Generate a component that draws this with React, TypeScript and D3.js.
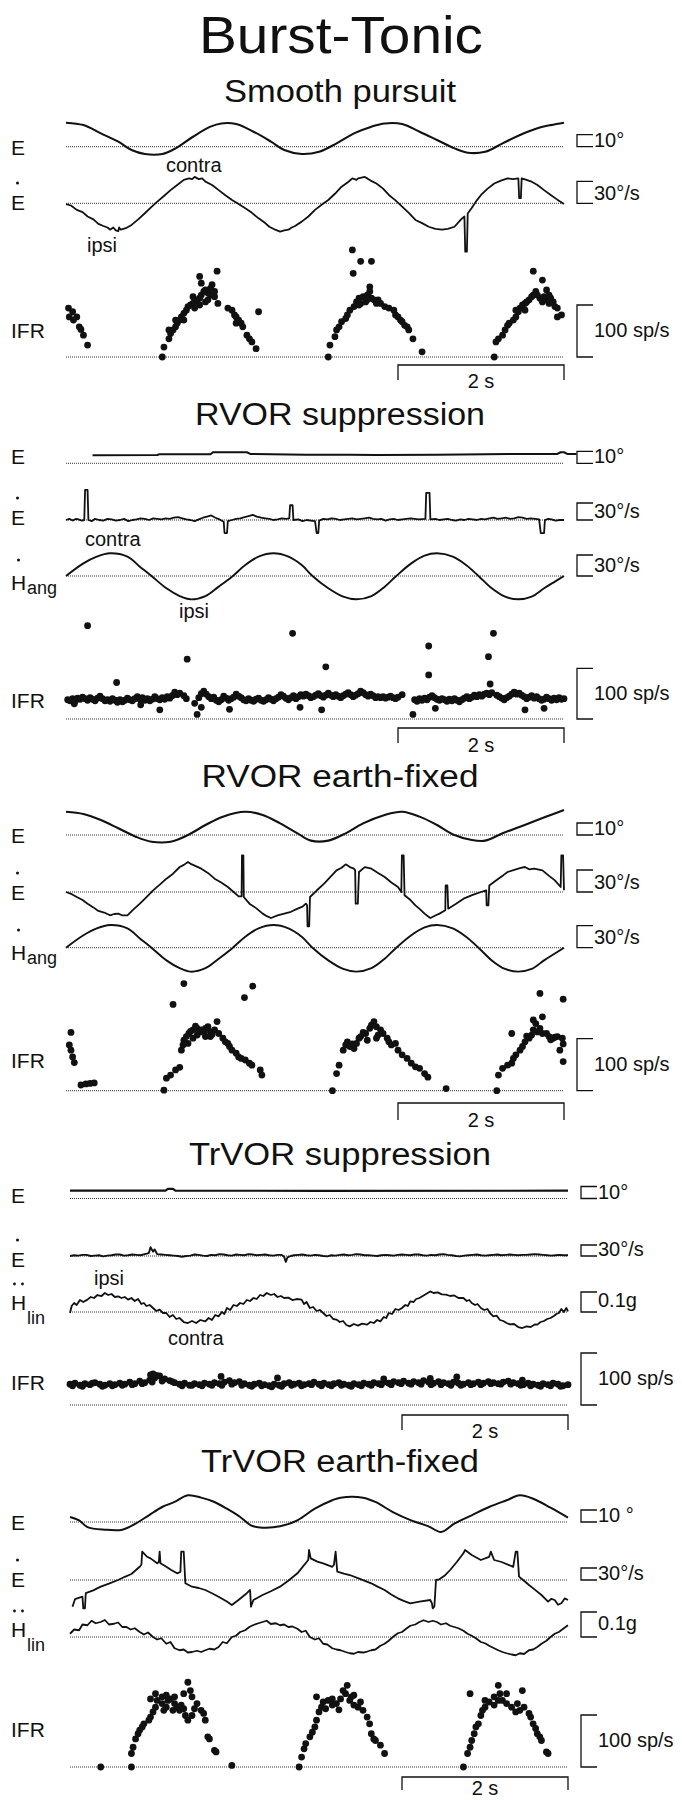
import React from 'react';
import * as d3 from 'd3';

type Pt = [number, number];

// ===================== DATA (time in s, values in physical units) =====================
// ---- Smooth pursuit ----
const spE: Pt[] = [[0,20],[.21,18],[.42,11.1],[.63,4.2],[.79,-2.8],[.95,-6.1],[1.16,-6.1],[1.32,-1.4],[1.53,8.3],[1.74,16.7],[1.87,19.4],[2.05,18.9],[2.26,12.5],[2.47,4.2],[2.63,-2.8],[2.84,-6.1],[3.05,-4.2],[3.26,2.8],[3.47,11.1],[3.68,16.7],[3.84,19.4],[4.05,18.9],[4.26,12.5],[4.47,5.6],[4.68,-1.4],[4.84,-5],[5.05,-4.2],[5.26,2.8],[5.47,9.7],[5.68,15.3],[5.84,18],[6.0,20]];
const spEdot: Pt[] = [[0,-1],[.06,-3],[.13,-9],[.2,-12],[.26,-18],[.33,-22],[.39,-28],[.45,-31],[.5,-33],[.53,-36],[.57,-33],[.6,-37],[.63,-38],[.64,-33],[.66,-36],[.72,-34],[.79,-29.5],[.87,-22],[.95,-13.6],[1.03,-5],[1.1,2.3],[1.18,10],[1.26,18],[1.34,25],[1.42,32],[1.48,34],[1.52,33],[1.55,36],[1.6,33],[1.64,34],[1.68,29.5],[1.76,25],[1.84,18],[1.92,11],[2.0,4.5],[2.08,-1],[2.16,-6.8],[2.24,-13],[2.32,-20.5],[2.4,-27],[2.45,-32],[2.52,-36],[2.58,-38.6],[2.63,-37],[2.68,-36],[2.72,-33],[2.76,-31],[2.84,-25],[2.92,-18],[3.0,-9],[3.08,-2],[3.16,4.5],[3.24,13],[3.32,22.7],[3.4,29],[3.45,34],[3.5,32],[3.52,34],[3.6,36],[3.63,34],[3.67,31],[3.74,27],[3.82,20],[3.89,11.4],[3.97,4],[4.05,-4.5],[4.13,-13],[4.21,-22.7],[4.29,-27],[4.37,-32],[4.45,-35],[4.53,-36],[4.6,-35],[4.68,-32],[4.76,-22],[4.8,-18],[4.81,-66],[4.83,-66],[4.84,-14],[4.89,-6],[4.95,4],[5.0,11.4],[5.08,20],[5.16,27],[5.24,31],[5.32,34],[5.38,33],[5.45,34],[5.46,7],[5.48,7],[5.49,34],[5.53,32.7],[5.6,30],[5.68,25],[5.76,18],[5.84,11.4],[5.92,5],[6.0,-1]];
const spIFR: Pt[] = [[.03,94],[.08,87],[.04,77],[.13,77],[.09,71],[.16,58],[.18,53],[.21,42],[.26,23],
[1.16,0],[1.18,19],[1.24,35],[1.26,45],[1.29,52],[1.32,58],[1.34,65],[1.37,71],[1.39,77],[1.42,84],[1.45,90],[1.47,97],[1.5,100],[1.53,103],[1.55,106],[1.58,110],[1.61,113],[1.63,119],[1.66,126],[1.68,129],[1.71,123],[1.74,132],[1.76,139],[1.79,116],[1.82,165],[1.61,100],[1.55,94],[1.68,106],[1.63,142],[1.74,119],[1.79,126],[1.83,103],[1.32,71],[1.42,71],[1.24,52],[1.53,116],[1.61,155],[1.71,110],
[1.95,94],[2.0,90],[2.03,81],[2.05,77],[2.08,71],[2.11,65],[2.05,65],[2.13,58],[2.18,42],[2.21,35],[2.24,29],[2.29,16],[2.32,87],
[3.16,0],[3.18,23],[3.24,39],[3.26,52],[3.29,58],[3.32,68],[3.37,74],[3.39,81],[3.42,90],[3.47,97],[3.5,106],[3.53,113],[3.58,116],[3.63,119],[3.66,126],[3.68,113],[3.71,110],[3.74,103],[3.61,106],[3.55,103],[3.66,135],[3.45,206],[3.55,184],[3.68,184],[3.46,161],[3.63,110],[3.53,100],[3.76,110],
[3.79,103],[3.84,97],[3.89,94],[3.95,90],[3.97,81],[4.0,77],[4.03,71],[4.05,68],[4.08,61],[4.11,58],[4.13,52],[4.18,35],[4.29,10],
[5.16,0],[5.18,29],[5.21,35],[5.26,42],[5.29,52],[5.32,61],[5.34,65],[5.39,71],[5.42,77],[5.45,87],[5.47,94],[5.5,100],[5.53,103],[5.55,106],[5.58,110],[5.61,116],[5.63,119],[5.66,126],[5.71,113],[5.74,106],[5.79,110],[5.82,103],[5.84,113],[5.87,106],[5.89,97],[5.92,77],[5.97,81],[5.92,94],[5.63,165],[5.74,148],[5.79,129],[5.42,90],[5.53,90],[5.68,119],[5.76,116],[5.82,119]];

// ---- RVOR suppression ----
const rsE: Pt[] = [[.32,6.7],[1.1,6.9],[1.12,7.5],[1.74,7.5],[1.77,9.2],[2.18,9.2],[2.22,7.8],[2.89,7.2],[3.42,7.2],[3.74,6.9],[4.47,7.2],[5.53,7.8],[5.92,7.8],[5.96,9.2],[6.0,9.2],[6.04,7.8],[6.15,7.8]];
const rsEdot: Pt[] = [[0,0],[.04,2],[.08,-1],[.12,2],[.15,1],[.19,-1],[.22,0],[.23,53],[.26,53],[.27,0],[.31,-2],[.35,2],[.4,0],[.45,-1],[.5,2],[.55,1],[.6,-1],[.65,0],[.7,2],[.75,-2],[.8,0],[.85,1],[.9,3],[.95,2],[1.0,0],[1.05,3],[1.1,2],[1.15,1],[1.2,3],[1.25,2],[1.3,4],[1.35,5],[1.4,3],[1.45,1],[1.5,0],[1.55,-2],[1.6,1],[1.65,4],[1.7,6],[1.75,8],[1.8,4],[1.85,1],[1.9,-3],[1.91,-23],[1.94,-23],[1.95,-2],[2.0,0],[2.05,2],[2.1,3],[2.15,5],[2.2,7],[2.25,9],[2.3,6],[2.35,4],[2.4,3],[2.45,2],[2.5,0],[2.55,1],[2.6,3],[2.65,2],[2.69,3],[2.7,26],[2.73,26],[2.74,0],[2.8,1],[2.85,-2],[2.9,0],[2.95,-1],[3.0,-2],[3.02,-23],[3.04,-23],[3.05,-1],[3.1,2],[3.15,1],[3.2,3],[3.25,2],[3.3,0],[3.35,1],[3.4,2],[3.45,3],[3.5,1],[3.55,2],[3.6,3],[3.65,4],[3.7,2],[3.75,1],[3.8,2],[3.85,-1],[3.9,1],[3.95,2],[4.0,0],[4.05,1],[4.1,2],[4.15,3],[4.2,2],[4.25,1],[4.33,2],[4.34,48],[4.38,48],[4.39,1],[4.45,2],[4.5,0],[4.55,1],[4.6,2],[4.65,0],[4.7,-1],[4.75,1],[4.8,0],[4.85,2],[4.9,1],[4.95,0],[5.0,2],[5.05,1],[5.1,3],[5.15,4],[5.2,2],[5.25,3],[5.3,4],[5.35,2],[5.4,3],[5.45,5],[5.5,4],[5.55,2],[5.6,3],[5.65,2],[5.7,1],[5.72,-23],[5.76,-23],[5.77,0],[5.81,2],[5.85,1],[5.9,-1],[5.95,0],[6.0,0]];
const rsHang: Pt[] = [[0,0],[.21,18],[.37,27.6],[.53,32.4],[.74,27.6],[.89,13.3],[1.03,0],[1.21,-17.6],[1.37,-28.6],[1.5,-33.3],[1.68,-28.6],[1.84,-15.2],[2.0,-1],[2.16,15.7],[2.32,27.6],[2.5,32.4],[2.68,27.6],[2.84,15.7],[2.97,0],[3.16,-17.6],[3.34,-29.5],[3.5,-33.3],[3.68,-28.6],[3.84,-15.2],[3.97,-1],[4.16,18],[4.32,29],[4.47,32.4],[4.66,27.6],[4.82,15.7],[4.97,0],[5.13,-17.6],[5.29,-29.5],[5.45,-33.3],[5.61,-29.5],[5.76,-17.6],[5.89,-8],[6.0,0]];
const rsIFR: Pt[] = [[.02,38],[.05,36],[.08,40],[.11,35],[.14,41],[.17,39],[.2,43],[.23,40],[.26,37],[.29,42],[.32,39],[.35,36],[.38,41],[.41,45],[.44,40],[.47,36],[.5,38],[.53,35],[.56,40],[.59,37],[.62,33],[.65,38],[.68,34],[.71,37],[.74,41],[.77,38],[.8,36],[.83,40],[.86,44],[.89,39],[.92,42],[.95,37],[.98,40],[1.01,36],[1.04,39],[1.07,44],[1.1,40],[1.13,38],[1.16,42],[1.19,39],[1.22,44],[1.25,41],[1.28,46],[1.31,53],[1.34,48],[1.37,51],[1.42,46],[1.45,40],[1.55,31],[1.6,42],[1.63,50],[1.66,55],[1.69,49],[1.72,44],[1.75,40],[1.78,43],[1.81,37],[1.84,34],[1.87,38],[1.9,45],[1.93,41],[1.96,37],[1.99,40],[2.02,43],[2.05,49],[2.08,45],[2.11,42],[2.14,38],[2.17,36],[2.2,40],[2.23,37],[2.26,35],[2.29,39],[2.32,41],[2.35,37],[2.38,35],[2.41,38],[2.44,42],[2.47,39],[2.5,36],[2.53,40],[2.56,43],[2.59,48],[2.62,45],[2.65,41],[2.68,38],[2.71,42],[2.74,46],[2.77,40],[2.8,44],[2.83,48],[2.86,45],[2.89,49],[2.92,46],[2.95,42],[2.98,44],[3.01,47],[3.04,50],[3.07,46],[3.1,43],[3.13,47],[3.16,51],[3.19,47],[3.22,44],[3.25,48],[3.28,45],[3.31,42],[3.34,46],[3.37,49],[3.4,52],[3.43,48],[3.46,44],[3.49,47],[3.52,50],[3.55,55],[3.58,52],[3.61,48],[3.64,45],[3.67,49],[3.7,46],[3.73,42],[3.76,44],[3.79,42],[3.82,44],[3.85,41],[3.88,43],[3.91,45],[3.94,42],[3.97,40],[4.0,43],[4.05,48],[4.2,38],[4.23,35],[4.26,40],[4.29,37],[4.32,41],[4.35,38],[4.38,43],[4.41,46],[4.44,42],[4.47,39],[4.5,37],[4.53,40],[4.56,38],[4.59,35],[4.62,39],[4.65,36],[4.68,40],[4.71,37],[4.74,34],[4.77,38],[4.8,41],[4.83,44],[4.86,40],[4.89,43],[4.92,47],[4.95,44],[4.98,48],[5.01,45],[5.04,49],[5.07,51],[5.1,48],[5.13,52],[5.19,47],[5.22,44],[5.25,41],[5.28,38],[5.31,42],[5.34,45],[5.37,49],[5.4,53],[5.43,49],[5.46,51],[5.49,47],[5.52,44],[5.55,40],[5.58,43],[5.61,46],[5.64,41],[5.67,44],[5.7,40],[5.73,37],[5.76,39],[5.79,43],[5.82,40],[5.85,37],[5.88,41],[5.91,38],[5.94,42],[5.97,39],[6.0,40],
[.26,184],[1.46,118],[.61,72],[2.73,169],[3.13,103],[4.37,144],[4.37,87],[5.15,169],[5.09,123],[5.11,69],[1.58,9],[1.13,18],[4.18,9],[1.63,23],[1.97,19],[3.08,18],[4.45,21],[5.53,18],[5.76,21],[2.82,23],[.1,30],[.9,28]];

// ---- RVOR earth-fixed ----
const reE: Pt[] = [[0,19.4],[.21,17.5],[.42,12.5],[.63,5.6],[.84,-1.4],[1.03,-5.6],[1.26,-5.6],[1.47,0],[1.68,8.3],[1.89,15.3],[2.16,19.4],[2.37,16.7],[2.58,9.7],[2.79,1.4],[2.95,-4.7],[3.16,-4.7],[3.37,1.4],[3.58,9.7],[3.84,16.7],[4.05,19.4],[4.26,15.3],[4.47,8.3],[4.68,0],[4.89,-4.2],[5.05,-4.7],[5.26,1.4],[5.47,6.9],[5.68,12.5],[5.84,16.7],[6.0,20.8]];
const reEdot: Pt[] = [[0,0],[.07,-3],[.13,-6.8],[.2,-11],[.26,-15.9],[.33,-21],[.39,-25.9],[.46,-28],[.53,-31.8],[.58,-30],[.63,-29.5],[.68,-32],[.74,-31.8],[.81,-24],[.89,-15.9],[.97,-7],[1.05,2.3],[1.13,10],[1.21,18.2],[1.29,25],[1.37,34.1],[1.42,37],[1.47,40.9],[1.51,38],[1.55,36],[1.63,31.8],[1.71,26],[1.79,18.2],[1.87,13],[1.95,6.8],[2.02,0],[2.08,-5.9],[2.116,-5.9],[2.12,50],[2.137,50],[2.142,-6.8],[2.21,-15.9],[2.29,-22],[2.37,-29.5],[2.42,-33],[2.47,-35.5],[2.55,-32],[2.63,-29.5],[2.71,-27],[2.79,-22.7],[2.85,-20],[2.89,-15.9],[2.905,-18],[2.91,-46.8],[2.93,-46.8],[2.94,-6.8],[3.02,2],[3.11,11.4],[3.18,20],[3.26,29.5],[3.32,33],[3.37,37.7],[3.42,34],[3.47,31.8],[3.484,29.5],[3.49,-15.9],[3.516,-15.9],[3.53,27.3],[3.6,34],[3.68,31.8],[3.76,26],[3.84,20.5],[3.92,13],[4.0,6.8],[4.04,0],[4.047,50],[4.068,50],[4.079,-4.5],[4.15,-11],[4.21,-18.2],[4.27,-24],[4.32,-29.5],[4.36,-33],[4.39,-35.5],[4.45,-32],[4.5,-29.5],[4.57,-25],[4.574,9],[4.595,9],[4.605,-22.7],[4.7,-16],[4.79,-9.1],[4.9,-4],[5.0,0],[5.063,2.3],[5.068,-18.2],[5.089,-18.2],[5.1,9],[5.16,14],[5.21,18.2],[5.27,23],[5.32,27.3],[5.42,31],[5.48,33],[5.53,34.1],[5.58,31],[5.64,32],[5.74,29.5],[5.82,22],[5.89,15.9],[5.96,6.8],[5.968,50],[5.989,50],[6.0,2.3]];
const reHang: Pt[] = [[0,0],[.21,17],[.37,26.4],[.53,31],[.74,26.4],[.89,12.7],[1.03,0],[1.21,-17.3],[1.37,-28],[1.5,-32.7],[1.68,-28],[1.84,-15],[2.0,-1],[2.16,15],[2.32,26.4],[2.5,31],[2.68,26.4],[2.84,15],[2.97,0],[3.16,-17.3],[3.34,-29],[3.5,-32.7],[3.68,-28],[3.84,-15],[3.97,-1],[4.16,17],[4.32,27.7],[4.47,31],[4.66,26.4],[4.82,15],[4.97,0],[5.13,-17.3],[5.29,-29],[5.45,-32.7],[5.61,-29],[5.76,-17.3],[5.89,-8],[6.0,0]];
const reIFR: Pt[] = [[.06,112],[.04,88],[.06,78],[.08,65],[.1,54],[.18,11],[.24,13],[.29,14],[.34,15],
[1.18,1],[1.21,24],[1.26,30],[1.32,40],[1.37,45],[1.39,78],[1.41,88],[1.42,97],[1.45,104],[1.48,110],[1.53,117],[1.58,120],[1.63,117],[1.68,120],[1.74,113],[1.79,117],[1.82,133],[1.84,110],[1.89,101],[1.92,94],[1.95,91],[1.97,85],[2.0,78],[2.05,72],[2.08,65],[2.11,62],[2.16,59],[2.21,53],[2.24,49],[2.34,40],[2.36,30],[1.47,91],[1.58,107],[1.68,104],[1.61,113],[1.53,101],[1.74,104],[1.42,206],[1.29,166],[2.25,201],[2.15,179],[1.56,124],[1.66,112],[1.71,123],[1.76,108],[1.5,114],
[3.21,0],[3.26,33],[3.29,49],[3.34,78],[3.37,88],[3.39,94],[3.42,85],[3.47,81],[3.5,91],[3.55,104],[3.61,110],[3.66,120],[3.68,126],[3.71,133],[3.74,123],[3.76,107],[3.79,117],[3.82,110],[3.87,101],[3.89,94],[3.92,88],[3.97,91],[4.0,78],[4.05,69],[4.11,62],[4.16,53],[4.21,46],[4.26,43],[4.32,33],[4.36,26],[3.63,97],[3.53,101],[3.74,101],[3.58,112],[3.45,90],
[4.58,4],
[5.19,0],[5.21,30],[5.26,43],[5.32,49],[5.37,53],[5.39,62],[5.42,69],[5.47,78],[5.5,85],[5.53,94],[5.58,101],[5.61,107],[5.63,117],[5.68,113],[5.71,120],[5.74,110],[5.79,110],[5.82,104],[5.87,101],[5.92,104],[5.98,101],[5.95,78],[5.99,90],[5.99,56],[5.37,110],[5.63,136],[5.74,142],[5.66,129],[5.71,187],[5.99,176],[5.55,105],[5.84,98],[5.89,103]];

// ---- TrVOR suppression ----
const tsE: Pt[] = [[0,6.5],[1.15,6.5],[1.18,8],[1.24,8],[1.27,6.5],[3.0,6.4],[6.0,6.5]];
const tsEdot: Pt[] = [[0,0],[.05,2],[.1,1],[.15,3],[.2,3],[.25,0],[.3,1],[.35,2],[.4,-1],[.45,1],[.5,2],[.55,4],[.6,4],[.65,1],[.7,2],[.75,4],[.8,3],[.85,2],[.9,5],[.95,8],[.97,24],[1.0,12],[1.02,18],[1.05,5],[1.1,4],[1.15,3],[1.2,2],[1.25,1],[1.3,0],[1.35,-2],[1.4,0],[1.45,1],[1.5,4],[1.55,3],[1.6,1],[1.65,0],[1.7,3],[1.75,2],[1.8,5],[1.85,4],[1.9,2],[1.95,1],[2.0,4],[2.05,3],[2.1,2],[2.15,5],[2.2,4],[2.25,2],[2.3,3],[2.35,4],[2.4,2],[2.45,1],[2.5,3],[2.55,3],[2.58,-2],[2.6,-16],[2.62,-4],[2.66,0],[2.7,2],[2.75,3],[2.8,4],[2.85,2],[2.9,1],[2.95,3],[3.0,2],[3.05,0],[3.1,-1],[3.15,2],[3.2,1],[3.25,3],[3.3,4],[3.35,2],[3.4,3],[3.45,5],[3.5,4],[3.55,2],[3.6,2],[3.65,1],[3.7,0],[3.75,2],[3.8,3],[3.85,2],[3.9,1],[3.95,3],[4.0,4],[4.05,3],[4.1,2],[4.15,4],[4.2,4],[4.25,2],[4.3,1],[4.35,3],[4.4,2],[4.45,4],[4.5,5],[4.55,3],[4.6,2],[4.65,0],[4.7,-1],[4.75,1],[4.8,2],[4.85,3],[4.9,4],[4.95,2],[5.0,1],[5.05,2],[5.1,3],[5.15,4],[5.2,2],[5.25,3],[5.3,4],[5.35,3],[5.4,2],[5.45,3],[5.5,3],[5.55,4],[5.6,5],[5.65,4],[5.7,3],[5.75,2],[5.8,1],[5.85,2],[5.9,3],[5.95,2],[6.0,2]];
const tsHlin: Pt[] = [[0,-.005],[.02,.03],[.05,.045],[.08,.035],[.12,.06],[.16,.05],[.21,.062],[.25,.075],[.29,.07],[.33,.085],[.38,.08],[.42,.095],[.46,.085],[.5,.09],[.54,.075],[.58,.078],[.62,.07],[.66,.075],[.7,.062],[.74,.07],[.78,.055],[.82,.065],[.86,.04],[.89,.045],[.92,.03],[.96,.035],[1.0,.02],[1.04,.005],[1.08,.012],[1.12,-.005],[1.16,-.005],[1.2,-.025],[1.24,-.015],[1.28,-.035],[1.32,-.03],[1.37,-.05],[1.42,-.055],[1.47,-.045],[1.52,-.055],[1.57,-.04],[1.63,-.047],[1.67,-.03],[1.71,-.04],[1.75,-.015],[1.79,-.022],[1.83,0],[1.86,-.01],[1.89,.02],[1.93,.01],[1.97,.035],[2.01,.03],[2.05,.045],[2.09,.04],[2.13,.06],[2.17,.055],[2.21,.07],[2.25,.065],[2.29,.085],[2.33,.08],[2.37,.095],[2.42,.085],[2.46,.09],[2.5,.075],[2.54,.08],[2.58,.07],[2.63,.072],[2.68,.06],[2.73,.065],[2.79,.062],[2.82,.04],[2.85,.05],[2.89,.02],[2.93,.025],[2.97,.005],[3.01,.01],[3.05,-.005],[3.09,-.02],[3.13,-.015],[3.17,-.035],[3.21,-.038],[3.25,-.05],[3.29,-.045],[3.33,-.065],[3.37,-.072],[3.42,-.06],[3.47,-.068],[3.52,-.058],[3.58,-.063],[3.62,-.05],[3.66,-.055],[3.7,-.04],[3.74,-.047],[3.78,-.025],[3.81,-.03],[3.84,-.005],[3.88,-.01],[3.92,.015],[3.96,.01],[4.0,.02],[4.04,.035],[4.07,.03],[4.1,.053],[4.14,.05],[4.17,.065],[4.21,.07],[4.25,.08],[4.29,.09],[4.34,.103],[4.38,.095],[4.43,.098],[4.48,.088],[4.53,.087],[4.58,.08],[4.63,.083],[4.68,.07],[4.74,.07],[4.78,.055],[4.81,.06],[4.84,.045],[4.88,.035],[4.91,.04],[4.95,.02],[4.99,.01],[5.03,.015],[5.06,-.005],[5.1,-.022],[5.14,-.018],[5.18,-.04],[5.22,-.045],[5.26,-.055],[5.3,-.062],[5.35,-.06],[5.4,-.075],[5.45,-.08],[5.5,-.072],[5.55,-.075],[5.6,-.062],[5.63,-.063],[5.67,-.05],[5.71,-.045],[5.75,-.035],[5.79,-.03],[5.83,-.02],[5.86,-.01],[5.89,-.005],[5.92,.015],[5.95,0],[5.98,.02],[6.0,.003]];
const tsIFR: Pt[] = [[0,40],[.06,42],[.12,38],[.18,41],[.24,39],[.3,43],[.36,40],[.42,38],[.48,41],[.54,39],[.6,42],[.66,40],[.72,44],[.78,41],[.84,46],[.9,43],[.96,48],[1.02,52],[1.08,56],[1.14,50],[1.2,47],[1.26,43],[1.32,40],[1.38,42],[1.44,38],[1.5,41],[1.56,39],[1.62,42],[1.68,40],[1.74,43],[1.8,41],[1.86,44],[1.92,47],[1.98,43],[2.04,45],[2.1,41],[2.16,38],[2.22,40],[2.28,42],[2.34,39],[2.4,37],[2.46,40],[2.52,38],[2.58,41],[2.64,43],[2.7,40],[2.76,42],[2.82,39],[2.88,41],[2.94,44],[3.0,40],[3.06,42],[3.12,39],[3.18,41],[3.24,43],[3.3,40],[3.36,38],[3.42,41],[3.48,39],[3.54,42],[3.6,40],[3.66,43],[3.72,41],[3.78,44],[3.84,42],[3.9,45],[3.96,43],[4.02,46],[4.08,42],[4.14,45],[4.2,43],[4.26,47],[4.32,44],[4.38,42],[4.44,45],[4.5,43],[4.56,41],[4.62,44],[4.68,42],[4.74,40],[4.8,43],[4.86,41],[4.92,44],[4.98,42],[5.04,45],[5.1,43],[5.16,41],[5.22,44],[5.28,46],[5.34,43],[5.4,41],[5.46,39],[5.52,42],[5.58,40],[5.64,38],[5.7,41],[5.76,39],[5.82,42],[5.88,40],[5.94,37],[6.0,39],
[.03,37],[.15,36],[.27,42],[.39,36],[.51,37],[.63,38],[.75,39],[.87,41],[.99,44],[1.11,46],[1.23,45],[1.35,37],[1.47,38],[1.59,37],[1.71,38],[1.83,38],[1.95,40],[2.07,38],[2.19,36],[2.31,37],[2.43,35],[2.55,36],[2.67,38],[2.79,37],[2.91,39],[3.03,37],[3.15,37],[3.27,38],[3.39,36],[3.51,37],[3.63,38],[3.75,39],[3.87,39],[3.99,41],[4.11,40],[4.23,40],[4.35,39],[4.47,39],[4.59,38],[4.71,38],[4.83,39],[4.95,39],[5.07,41],[5.19,40],[5.31,40],[5.43,38],[5.55,37],[5.67,36],[5.79,37],[5.91,36],
[.97,58],[1.0,60],[1.04,57],[1.82,55],[2.5,52],[3.78,50],[4.34,51],[4.66,54],[5.45,48]];

// ---- TrVOR earth-fixed ----
const teE: Pt[] = [[0,4.2],[.11,1.4],[.21,-4.2],[.42,-6.4],[.63,-6.4],[.79,-1.4],[.95,5.6],[1.11,12.5],[1.26,16.7],[1.42,22.2],[1.58,20.3],[1.74,16.7],[1.89,11.1],[2.05,4.2],[2.18,-2.8],[2.32,-4.7],[2.53,-3.6],[2.74,1.4],[2.95,11.1],[3.16,18.1],[3.26,20.3],[3.53,20.3],[3.68,16.7],[3.89,8.3],[4.11,1.4],[4.32,-3.6],[4.47,-8.3],[4.63,-1.4],[4.84,5.6],[5.05,12.5],[5.26,18.1],[5.42,22.2],[5.58,19.4],[5.79,11.9],[6.0,3.6]];
const teEdot: Pt[] = [[.03,-66.7],[.06,-48],[.15,-41.7],[.16,-70.8],[.18,-70.8],[.19,-33],[.28,-26],[.37,-16.7],[.47,-9],[.58,0],[.66,8],[.74,15],[.84,33],[.86,38],[.87,70.8],[.89,66.7],[.93,58],[.97,54],[1.05,41.7],[1.07,45],[1.08,70.8],[1.09,41.7],[1.16,33],[1.22,25],[1.29,16.7],[1.33,20],[1.34,70.8],[1.37,70.8],[1.39,-8.3],[1.47,-16.7],[1.55,-20],[1.63,-25],[1.71,-33],[1.79,-41.7],[1.89,-54],[1.95,-62.5],[2.03,-50],[2.13,-33],[2.17,-25],[2.18,-66.7],[2.21,-50],[2.32,-37.5],[2.42,-28],[2.53,-16.7],[2.63,-2],[2.74,16.7],[2.87,50],[2.88,75],[2.9,54],[2.98,46],[3.05,41.7],[3.16,33],[3.18,38],[3.2,70.8],[3.22,20.8],[3.3,16],[3.37,12.5],[3.5,2],[3.63,-8.3],[3.7,-16],[3.79,-25],[3.87,-36],[3.95,-45.8],[4.02,-52],[4.1,-58.3],[4.21,-54],[4.34,-50],[4.36,-58],[4.37,-70.8],[4.39,-66.7],[4.41,0],[4.45,1.7],[4.52,12],[4.58,25],[4.66,45],[4.74,66.7],[4.76,75],[4.84,62.5],[4.95,50],[5.05,58],[5.07,70.8],[5.11,50],[5.2,45],[5.34,33],[5.37,70.8],[5.39,70.8],[5.41,8.3],[5.47,-2],[5.53,-12.5],[5.6,-24],[5.68,-37.5],[5.76,-54],[5.8,-47],[5.84,-50],[5.88,-62],[5.92,-58],[5.96,-46],[6.0,-50]];
const teHlin: Pt[] = [[0,.013],[.05,.03],[.11,.027],[.15,.05],[.21,.047],[.26,.065],[.31,.055],[.37,.06],[.42,.068],[.47,.05],[.53,.053],[.58,.058],[.63,.04],[.68,.04],[.73,.03],[.78,.035],[.84,.02],[.89,.01],[.94,.018],[1.0,0],[1.05,-.01],[1.1,-.005],[1.16,-.027],[1.21,-.02],[1.26,-.045],[1.32,-.053],[1.37,-.05],[1.42,-.062],[1.47,-.06],[1.53,-.055],[1.58,-.06],[1.63,-.053],[1.68,-.047],[1.74,-.05],[1.79,-.04],[1.84,-.02],[1.89,-.025],[1.95,0],[2.0,.005],[2.05,.02],[2.11,.027],[2.16,.04],[2.21,.048],[2.27,.055],[2.32,.06],[2.37,.065],[2.42,.052],[2.48,.055],[2.53,.047],[2.58,.05],[2.63,.04],[2.68,.042],[2.74,.033],[2.79,.02],[2.84,.025],[2.89,0],[2.95,-.01],[3.0,-.005],[3.05,-.027],[3.1,-.03],[3.16,-.045],[3.21,-.05],[3.26,-.053],[3.32,-.06],[3.37,-.065],[3.42,-.067],[3.47,-.06],[3.53,-.062],[3.58,-.058],[3.63,-.053],[3.68,-.05],[3.74,-.035],[3.79,-.027],[3.84,-.015],[3.89,0],[3.95,.015],[4.0,.02],[4.05,.033],[4.1,.045],[4.16,.05],[4.21,.06],[4.26,.067],[4.32,.06],[4.37,.065],[4.42,.06],[4.47,.05],[4.53,.055],[4.58,.045],[4.63,.04],[4.68,.035],[4.74,.025],[4.79,.013],[4.84,.005],[4.89,-.005],[4.95,-.02],[5.0,-.025],[5.05,-.035],[5.11,-.045],[5.16,-.053],[5.21,-.06],[5.26,-.065],[5.32,-.07],[5.37,-.073],[5.42,-.065],[5.47,-.068],[5.53,-.053],[5.58,-.05],[5.63,-.04],[5.68,-.027],[5.74,-.015],[5.79,0],[5.84,.013],[5.89,.02],[5.95,.035],[6.0,.047]];
const teIFR: Pt[] = [[.37,0],[.74,0],[.74,26],[.76,38],[.79,54],[.82,64],[.84,71],[.87,77],[.89,83],[.95,90],[.97,96],[1.0,106],[1.03,115],[1.05,128],[1.11,122],[1.13,109],[1.16,115],[1.18,128],[1.21,131],[1.26,122],[1.29,115],[1.32,109],[1.34,119],[1.37,112],[1.39,99],[1.42,90],[1.47,99],[1.5,112],[1.53,122],[1.58,109],[1.61,103],[1.63,90],[1.66,58],[1.68,54],[1.74,32],[1.76,29],[1.03,141],[1.11,135],[1.16,138],[1.26,135],[1.42,163],[1.45,147],[1.47,135],[.97,131],[1.24,109],[1.37,141],[1.95,3],
[2.76,0],[2.79,19],[2.82,35],[2.84,45],[2.89,58],[2.92,67],[2.95,77],[2.97,90],[3.0,106],[3.03,115],[3.05,125],[2.97,135],[3.11,128],[3.16,119],[3.21,122],[3.26,131],[3.32,141],[3.34,157],[3.37,128],[3.39,135],[3.42,119],[3.47,115],[3.5,125],[3.53,109],[3.58,96],[3.61,83],[3.63,64],[3.66,54],[3.68,51],[3.74,42],[3.79,26],[3.16,131],[3.42,138],[3.29,147],[3.08,112],[3.24,110],
[4.74,0],[4.79,26],[4.82,38],[4.84,51],[4.87,64],[4.89,77],[4.92,83],[4.95,99],[4.97,109],[5.0,115],[5.05,125],[5.11,119],[5.16,128],[5.18,141],[5.21,128],[5.26,122],[5.32,115],[5.37,106],[5.42,109],[5.47,115],[5.53,103],[5.55,96],[5.58,83],[5.61,74],[5.63,64],[5.66,58],[5.68,51],[5.74,29],[5.76,26],[4.82,141],[5.16,157],[5.26,141],[5.45,147],[5.11,135],[5.0,128],[5.39,122]];

// ---- labels ----
const mainTitle = 'Burst-Tonic';
const panelTitles = ['Smooth pursuit', 'RVOR suppression', 'RVOR earth-fixed', 'TrVOR suppression', 'TrVOR earth-fixed'];
const timeBarLabel = '2 s';

// ===================== LAYOUT =====================
const FONT = '"Liberation Sans", Arial, Helvetica, sans-serif';
const INK = '#111';

type Row = {
  kind: 'E' | 'Edot' | 'Hang' | 'Hlin' | 'IFR';
  base: number; ppu: number; data: Pt[];
  bar: number; barText: string; barTextY: number;
  labelY: number; curve?: any; sw?: number;
};
type Panel = {
  title: string; titleY: number; titleLen: number; x0: number; x1: number; barX: number;
  rows: Row[]; tb: [number, number, number];
  notes: { text: string; x: number; y: number }[];
};

const panels: Panel[] = [
  { title: panelTitles[0], titleY: 102, titleLen: 232, x0: 66, x1: 564, barX: 577,
    tb: [365, 380, 388],
    notes: [{ text: 'contra', x: 166, y: 172 }, { text: 'ipsi', x: 87, y: 252 }],
    rows: [
      { kind: 'E', base: 146.7, ppu: 1.2, data: spE, bar: 10, barText: '10°', barTextY: 147, labelY: 155, curve: d3.curveCatmullRom, sw: 2.1 },
      { kind: 'Edot', base: 203.3, ppu: 0.733, data: spEdot, bar: 30, barText: '30°/s', barTextY: 200, labelY: 210, sw: 1.8 },
      { kind: 'IFR', base: 357, ppu: 0.52, data: spIFR, bar: 100, barText: '100 sp/s', barTextY: 337, labelY: 338 },
    ] },
  { title: panelTitles[1], titleY: 425, titleLen: 290, x0: 66, x1: 564, barX: 577,
    tb: [728, 743, 752],
    notes: [{ text: 'contra', x: 85, y: 546 }, { text: 'ipsi', x: 179, y: 618 }],
    rows: [
      { kind: 'E', base: 463.3, ppu: 1.2, data: rsE, bar: 10, barText: '10°', barTextY: 463, labelY: 464, sw: 2 },
      { kind: 'Edot', base: 520, ppu: 0.567, data: rsEdot, bar: 30, barText: '30°/s', barTextY: 518, labelY: 525, sw: 1.8 },
      { kind: 'Hang', base: 576, ppu: 0.7, data: rsHang, bar: 30, barText: '30°/s', barTextY: 572, labelY: 590, curve: d3.curveCatmullRom, sw: 1.9 },
      { kind: 'IFR', base: 719, ppu: 0.507, data: rsIFR, bar: 100, barText: '100 sp/s', barTextY: 700, labelY: 708 },
    ] },
  { title: panelTitles[2], titleY: 787, titleLen: 277, x0: 66, x1: 564, barX: 577,
    tb: [1103, 1120, 1127],
    notes: [],
    rows: [
      { kind: 'E', base: 835, ppu: 1.2, data: reE, bar: 10, barText: '10°', barTextY: 835, labelY: 843, curve: d3.curveCatmullRom, sw: 2.1 },
      { kind: 'Edot', base: 892, ppu: 0.733, data: reEdot, bar: 30, barText: '30°/s', barTextY: 889, labelY: 900, sw: 1.8 },
      { kind: 'Hang', base: 947.7, ppu: 0.733, data: reHang, bar: 30, barText: '30°/s', barTextY: 944, labelY: 960, curve: d3.curveCatmullRom, sw: 1.9 },
      { kind: 'IFR', base: 1090.7, ppu: 0.52, data: reIFR, bar: 100, barText: '100 sp/s', barTextY: 1071, labelY: 1068 },
    ] },
  { title: panelTitles[3], titleY: 1165, titleLen: 302, x0: 70, x1: 568, barX: 581,
    tb: [1415, 1430, 1438],
    notes: [{ text: 'ipsi', x: 94, y: 1285 }, { text: 'contra', x: 168, y: 1345 }],
    rows: [
      { kind: 'E', base: 1198.5, ppu: 1.2, data: tsE, bar: 10, barText: '10°', barTextY: 1199, labelY: 1203, sw: 2.2 },
      { kind: 'Edot', base: 1256, ppu: 0.367, data: tsEdot, bar: 30, barText: '30°/s', barTextY: 1256, labelY: 1267, sw: 1.9 },
      { kind: 'Hlin', base: 1312, ppu: 200, data: tsHlin, bar: 0.1, barText: '0.1g', barTextY: 1307, labelY: 1310, sw: 1.8 },
      { kind: 'IFR', base: 1405, ppu: 0.52, data: tsIFR, bar: 100, barText: '100 sp/s', barTextY: 1385, labelY: 1390 },
    ] },
  { title: panelTitles[4], titleY: 1472, titleLen: 278, x0: 70, x1: 568, barX: 581,
    tb: [1777, 1790, 1795],
    notes: [],
    rows: [
      { kind: 'E', base: 1522, ppu: 1.2, data: teE, bar: 10, barText: '10 °', barTextY: 1522, labelY: 1530, curve: d3.curveCatmullRom, sw: 2 },
      { kind: 'Edot', base: 1580, ppu: 0.4, data: teEdot, bar: 30, barText: '30°/s', barTextY: 1580, labelY: 1587, sw: 1.8 },
      { kind: 'Hlin', base: 1637, ppu: 250, data: teHlin, bar: 0.1, barText: '0.1g', barTextY: 1630, labelY: 1637, sw: 1.8 },
      { kind: 'IFR', base: 1767, ppu: 0.52, data: teIFR, bar: 100, barText: '100 sp/s', barTextY: 1747, labelY: 1737 },
    ] },
];

function RowLabel({ kind, y }: { kind: Row['kind']; y: number }) {
  const fs = 21;
  if (kind === 'IFR') return <text x={11} y={y} fontSize={fs}>IFR</text>;
  if (kind === 'E') return <text x={11} y={y} fontSize={fs}>E</text>;
  if (kind === 'Edot') return (
    <g><circle cx={17.5} cy={y - 27} r={1.5} fill={INK} /><text x={11} y={y} fontSize={fs}>E</text></g>
  );
  if (kind === 'Hang') return (
    <g><circle cx={18.5} cy={y - 30} r={1.5} fill={INK} /><text x={11} y={y} fontSize={fs}>H</text>
      <text x={27} y={y + 4} fontSize={18}>ang</text></g>
  );
  return (
    <g><circle cx={14.5} cy={y - 26} r={1.4} fill={INK} /><circle cx={22.5} cy={y - 26} r={1.4} fill={INK} />
      <text x={11} y={y} fontSize={fs}>H</text><text x={27} y={y + 14} fontSize={18}>lin</text></g>
  );
}

function PanelView({ p }: { p: Panel }) {
  const x = d3.scaleLinear().domain([0, 6]).range([p.x0, p.x1]);
  return (
    <g>
      <text x={340} y={p.titleY} fontSize={31} textAnchor="middle" textLength={p.titleLen} lengthAdjust="spacingAndGlyphs">{p.title}</text>
      {p.notes.map((n, i) => <text key={i} x={n.x} y={n.y} fontSize={20}>{n.text}</text>)}
      {p.rows.map((r, i) => {
        const y = d3.scaleLinear().domain([0, 1]).range([r.base, r.base - r.ppu]);
        const yTop = y(r.bar);
        const yBot = y(0);
        let mark: React.ReactNode;
        if (r.kind === 'IFR') {
          mark = r.data.map((d, j) => <circle key={j} cx={x(d[0])} cy={y(d[1])} r={3.4} fill={INK} />);
        } else {
          const line = d3.line<Pt>().x(d => x(d[0])).y(d => y(d[1])).curve(r.curve || d3.curveLinear);
          mark = <path d={line(r.data) || ''} fill="none" stroke={INK} strokeWidth={r.sw || 1.6} strokeLinejoin="round" />;
        }
        return (
          <g key={i}>
            <line x1={x(0)} x2={x(6)} y1={r.base} y2={r.base} stroke="#333" strokeWidth={1} strokeDasharray="1 1" />
            {mark}
            <RowLabel kind={r.kind} y={r.labelY} />
            <path d={`M${p.barX + 16},${yTop}H${p.barX}V${yBot}H${p.barX + 16}`} fill="none" stroke={INK} strokeWidth={1.3} />
            <text x={p.barX + 17} y={r.barTextY} fontSize={20}>{r.barText}</text>
          </g>
        );
      })}
      <path d={`M${x(4)},${p.tb[1]}V${p.tb[0]}H${x(6)}V${p.tb[1]}`} fill="none" stroke={INK} strokeWidth={1.3} />
      <text x={(x(4) + x(6)) / 2} y={p.tb[2]} fontSize={20} textAnchor="middle">{timeBarLabel}</text>
    </g>
  );
}

export default function App() {
  return (
    <svg width={682} height={1800} viewBox="0 0 682 1800"
      style={{ position: 'absolute', left: 0, top: 0, display: 'block', background: '#fff' }}
      fontFamily={FONT} fill={INK}>
      <rect width={682} height={1800} fill="#fff" />
      <text x={341} y={53} fontSize={52} textAnchor="middle" textLength={284} lengthAdjust="spacingAndGlyphs">{mainTitle}</text>
      {panels.map((p, i) => <PanelView key={i} p={p} />)}
    </svg>
  );
}
